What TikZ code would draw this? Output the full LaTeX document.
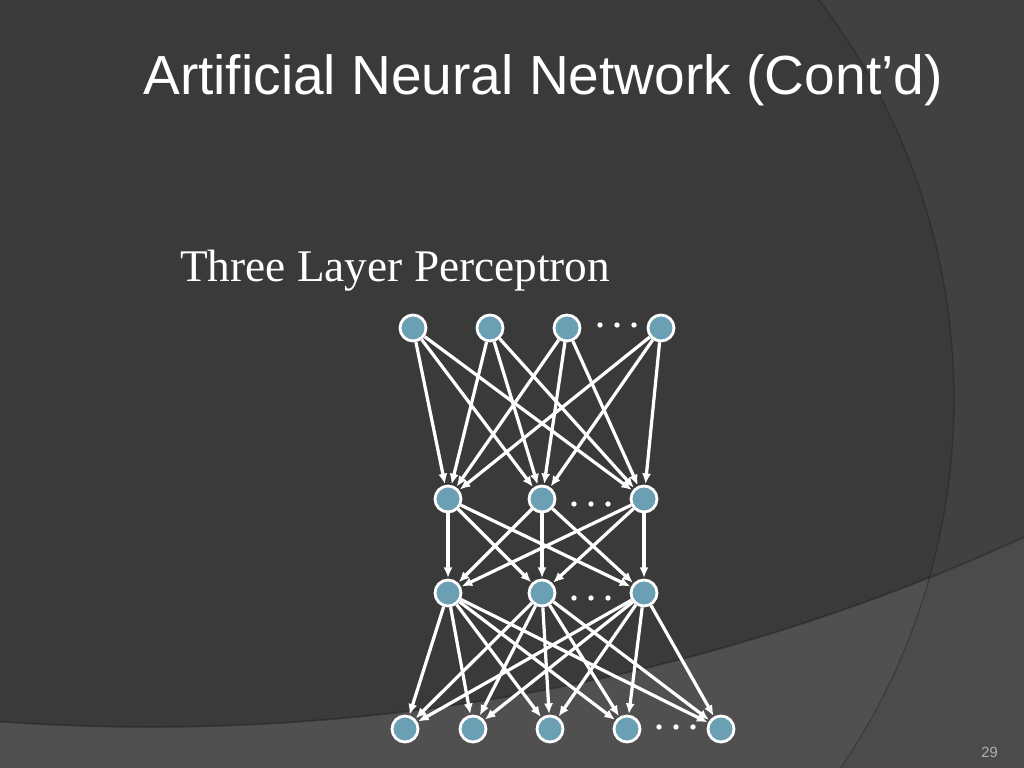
\documentclass[tikz,border=0pt]{standalone}
\usepackage{fontspec}
\setmainfont{Liberation Serif}
\setsansfont{Liberation Sans}
\usetikzlibrary{arrows.meta}

\definecolor{slidebg}{HTML}{3A3A3A}
\definecolor{slideside}{HTML}{414141}
\definecolor{slidefloor}{HTML}{505050}
\definecolor{floorside}{HTML}{4B4B4B}
\definecolor{unitblue}{HTML}{6A9FB4}

\tikzset{
  unit/.style={circle, fill=unitblue, draw=white, line width=2pt, minimum size=18.5pt, inner sep=0pt},
  dotnode/.style={circle, fill=white, minimum size=3.8pt, inner sep=0pt},
  link/.style={draw=white, line width=2.3pt, -{Latex[length=7.5pt,width=6.5pt]}, shorten >=0.5pt},
}

\begin{document}
\begin{tikzpicture}[x=0.025cm, y=-0.025cm]
\useasboundingbox (0,0) rectangle (1024,768);

% background of the slide
\fill[slidebg] (0,0) rectangle (1024,768);
\fill[slideside, even odd rule] (0,0) rectangle (1024,768) (297,399) circle (657);
\fill[slidefloor, even odd rule] (0,0) rectangle (1024,768) (150,-1373) circle (2100);
\begin{scope}[even odd rule]
  \clip (0,0) rectangle (1024,768) (297,399) circle (657);
  \fill[floorside] (0,0) rectangle (1024,768) (150,-1373) circle (2100);
\end{scope}
\draw[black, opacity=0.2, line width=1pt] (297,399) circle (657);
\draw[black, opacity=0.25, line width=1.2pt] (150,-1373) circle (2100);

% texts
\node (title) at (143, 94.5) [anchor=base west, inner sep=0pt, text=white, font=\sffamily\fontsize{39.2}{44}\selectfont] {Artificial Neural Network (Cont’d)};
\node (sub) at (180, 281) [anchor=base west, inner sep=0pt, text=white, font=\fontsize{32.2}{36}\selectfont] {Three Layer Perceptron};
\node (num) at (998, 757) [anchor=base east, inner sep=0pt, text=white!55!slidefloor, font=\sffamily\fontsize{10.5}{12}\selectfont] {29};

% input layer
\node (i1) at (413, 328) [unit] {};
\node (i2) at (490, 328) [unit] {};
\node (i3) at (567, 328) [unit] {};
\node (i4) at (661, 328) [unit] {};
\node (di1) at (600, 325) [dotnode] {};
\node (di2) at (617, 325) [dotnode] {};
\node (di3) at (634, 325) [dotnode] {};

% first hidden layer
\node (h1) at (448, 499) [unit] {};
\node (h2) at (542, 499) [unit] {};
\node (h3) at (644, 499) [unit] {};
\node (dh1) at (574, 504) [dotnode] {};
\node (dh2) at (591, 504) [dotnode] {};
\node (dh3) at (608, 504) [dotnode] {};

% second hidden layer
\node (g1) at (448, 593) [unit] {};
\node (g2) at (542, 593) [unit] {};
\node (g3) at (644, 593) [unit] {};
\node (dg1) at (574, 598) [dotnode] {};
\node (dg2) at (591, 598) [dotnode] {};
\node (dg3) at (608, 598) [dotnode] {};

% output layer
\node (o1) at (405, 729) [unit] {};
\node (o2) at (473, 729) [unit] {};
\node (o3) at (550, 729) [unit] {};
\node (o4) at (627, 729) [unit] {};
\node (o5) at (721, 729) [unit] {};
\node (do1) at (659, 727) [dotnode] {};
\node (do2) at (676, 727) [dotnode] {};
\node (do3) at (693, 727) [dotnode] {};

% connections
\foreach \a in {i1,i2,i3,i4}
  \foreach \b in {h1,h2,h3}
    \draw[link] (\a) -- (\b);
\foreach \a in {h1,h2,h3}
  \foreach \b in {g1,g2,g3}
    \draw[link] (\a) -- (\b);
\foreach \a in {g1,g2,g3}
  \foreach \b in {o1,o2,o3,o4,o5}
    \draw[link] (\a) -- (\b);
\end{tikzpicture}
\end{document}
